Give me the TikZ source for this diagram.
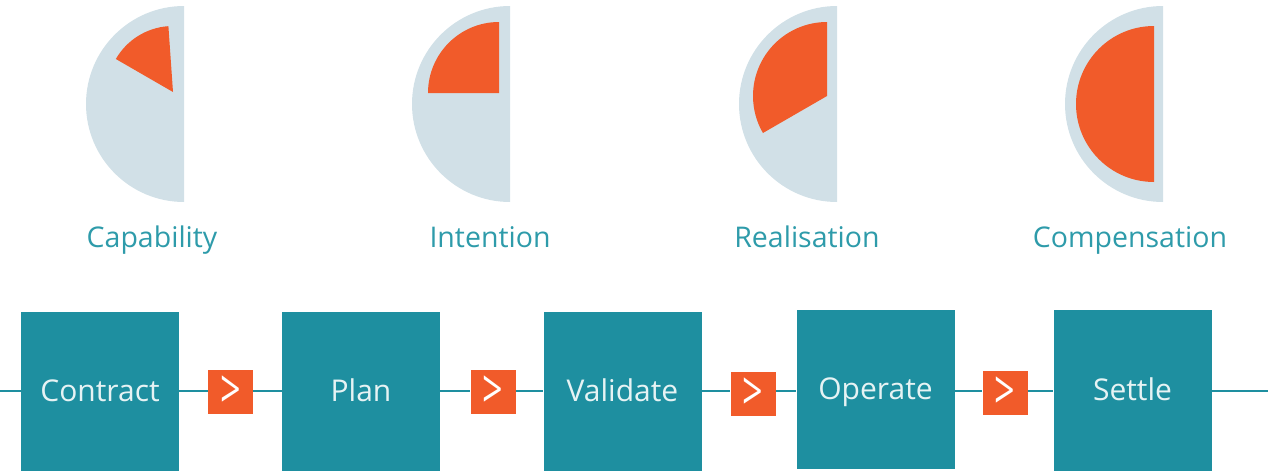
\documentclass[tikz,border=0pt]{standalone}
\usepackage{fontspec}
\setmainfont{Open Sans}
\usepackage{tikz}
\usetikzlibrary{calc}
\definecolor{stepteal}{RGB}{30,143,160}
\definecolor{labelteal}{RGB}{46,155,170}
\definecolor{pieback}{RGB}{209,224,231}
\definecolor{pieorange}{RGB}{241,91,42}
\definecolor{boxtext}{RGB}{230,243,244}
\def\halfpie(#1)(#2){\fill[pieback] ($(#1)+(270:#2)$) arc (270:90:#2) -- cycle;}
\def\slice[#1](#2)(#3:#4:#5){\fill[#1] (#2) -- ($(#2)+(#3:#5)$) arc (#3:#4:#5) -- cycle;}
\def\nextsign{\scalebox{0.8}[1.2]{>}}
\tikzset{
	stepbox/.style={fill=stepteal, text=boxtext, minimum width=158pt, minimum height=159pt, inner sep=0pt, text height=20pt, text depth=0pt, font=\fontsize{30}{34}\selectfont},
	nextmark/.style={fill=pieorange, text=white, minimum width=45pt, minimum height=44pt, inner sep=0pt, font=\fontsize{45}{46}\selectfont},
	pielabel/.style={text=labelteal, anchor=base, inner sep=0pt, font=\fontsize{28.5}{32}\selectfont},
}

\begin{document}
\begin{tikzpicture}[x=1pt, y=-1pt]
			%%%%% START %%%%%
			\useasboundingbox (0, 0) rectangle (1268, 471);
			
			\halfpie(184, 104)(98)
			\slice[pieorange](173, 92)(266:210:66)
			\node[pielabel] (capability) at (152, 247) {Capability};
			
			\halfpie(510, 104)(98)
			\slice[pieorange](499, 93)(270:180:71)
			\node[pielabel] (intention) at (490, 247) {Intention};
			
			\halfpie(837, 104)(98)
			\slice[pieorange](827, 96)(270:150:74)
			\node[pielabel] (realisation) at (807, 247) {Realisation};
			
			\halfpie(1163, 104)(98)
			\slice[pieorange](1154, 104)(270:90:78)
			\node[pielabel] (compensation) at (1130, 247) {Compensation};
			
			\coordinate (linestart) at (0, 391);
			\coordinate (lineend) at (1268, 391);
			
			\node[stepbox] (contract) at (100, 391.5) {Contract};
			\node[stepbox] (plan) at (361, 391.5) {Plan};
			\node[stepbox] (validate) at (622.5, 391.5) {Validate};
			\node[stepbox] (operate) at (875.5, 389) {Operate};
			\node[stepbox, minimum height=161pt] (settle) at (1132.5, 390.5) {Settle};
			
			\node[nextmark] (next1) at (230.5, 392) {\nextsign};
			\node[nextmark] (next2) at (493, 392) {\nextsign};
			\node[nextmark] (next3) at (753, 394) {\nextsign};
			\node[nextmark] (next4) at (1005, 393) {\nextsign};
			
			\draw[stepteal, line width=2.6pt] (linestart) -- (contract.west |- linestart);
			\foreach \from/\to in {contract/next1, next1/plan, plan/next2, next2/validate, validate/next3, next3/operate, operate/next4, next4/settle}
				\draw[stepteal, line width=2.6pt] (\from.east |- linestart) -- (\to.west |- linestart);
			\draw[stepteal, line width=2.6pt] (settle.east |- linestart) -- (lineend);
			
			%%%%% END %%%%%
\end{tikzpicture}
\end{document}
